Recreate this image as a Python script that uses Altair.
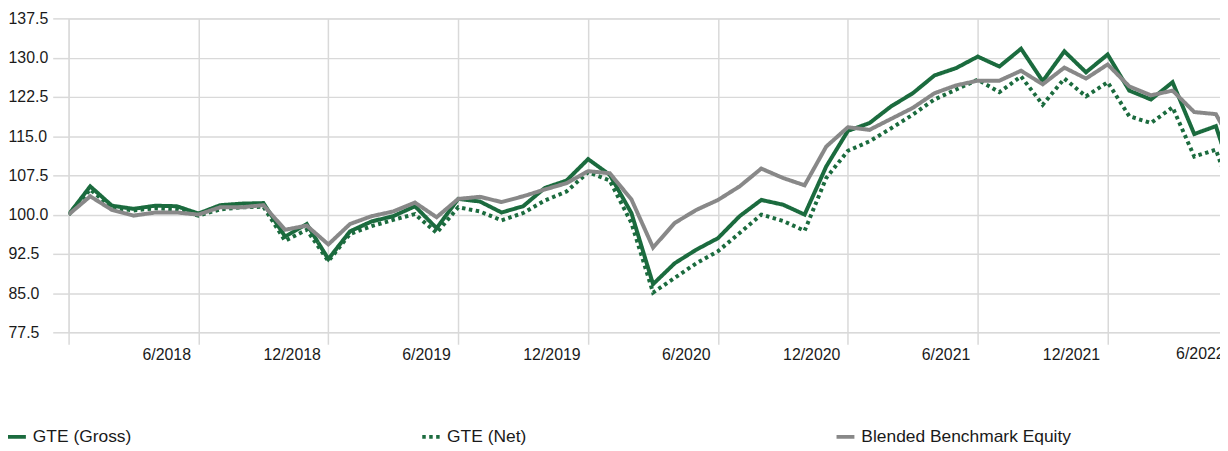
import json
import altair as alt
import pandas as pd

months = ["12/2017",
          "1/2018", "2/2018", "3/2018", "4/2018", "5/2018", "6/2018",
          "7/2018", "8/2018", "9/2018", "10/2018", "11/2018", "12/2018",
          "1/2019", "2/2019", "3/2019", "4/2019", "5/2019", "6/2019",
          "7/2019", "8/2019", "9/2019", "10/2019", "11/2019", "12/2019",
          "1/2020", "2/2020", "3/2020", "4/2020", "5/2020", "6/2020",
          "7/2020", "8/2020", "9/2020", "10/2020", "11/2020", "12/2020",
          "1/2021", "2/2021", "3/2021", "4/2021", "5/2021", "6/2021",
          "7/2021", "8/2021", "9/2021", "10/2021", "11/2021", "12/2021",
          "1/2022", "2/2022", "3/2022", "4/2022", "5/2022", "6/2022"]

gross = [100.0,
         105.4, 101.7, 101.1, 101.7, 101.6, 100.2,
         101.8, 102.1, 102.2, 95.8, 98.2, 91.5,
         96.8, 98.7, 99.7, 101.6, 97.4, 103.0,
         102.5, 100.4, 101.6, 105.1, 106.5, 110.6,
         107.6, 100.3, 86.7, 90.7, 93.3, 95.5,
         99.7, 102.8, 101.9, 100.0, 109.2, 116.0,
         117.5, 120.7, 123.2, 126.6, 128.0, 130.2,
         128.3, 131.7, 125.5, 131.2, 127.2, 130.6,
         123.7, 122.0, 125.3, 115.4, 116.9, 104.3]

net = [100.0,
       104.8, 101.3, 100.8, 101.2, 101.0, 99.8,
       101.0, 101.4, 101.5, 95.0, 97.1, 91.1,
       96.3, 97.8, 99.0, 100.1, 96.5, 101.4,
       100.6, 98.9, 100.3, 102.7, 104.4, 108.1,
       106.5, 98.4, 85.1, 87.9, 90.7, 93.0,
       96.5, 100.0, 98.8, 96.9, 107.0, 112.2,
       114.0, 116.5, 119.1, 122.0, 123.9, 125.8,
       123.4, 126.4, 121.0, 126.0, 122.6, 125.3,
       118.8, 117.5, 120.5, 111.1, 112.4, 100.9]

bench = [100.0,
         103.5, 100.9, 99.8, 100.4, 100.4, 100.0,
         101.4, 101.4, 101.8, 97.1, 97.9, 94.3,
         98.2, 99.7, 100.6, 102.3, 99.5, 103.0,
         103.4, 102.4, 103.5, 104.8, 106.0, 108.3,
         107.9, 102.9, 93.7, 98.4, 100.9, 102.8,
         105.4, 108.8, 107.0, 105.6, 113.0, 116.7,
         116.2, 118.3, 120.4, 123.2, 124.7, 125.6,
         125.6, 127.5, 124.9, 128.1, 126.0, 128.7,
         124.5, 122.8, 123.7, 119.6, 119.2, 111.8]

series_names = ["GTE (Gross)", "GTE (Net)", "Blended Benchmark Equity"]
series_colors = ["#1b6b3e", "#1b6b3e", "#888888"]
series_dash = [[1, 0], [3.5, 3.5], [1, 0]]

tick_idx = [0, 6, 12, 18, 24, 30, 36, 42, 48, 54]
tick_labels = ["", "6/2018", "12/2018", "6/2019", "12/2019",
               "6/2020", "12/2020", "6/2021", "12/2021", "6/2022"]
y_ticks = [77.5, 85.0, 92.5, 100.0, 107.5, 115.0, 122.5, 130.0, 137.5]

FONT = "Liberation Sans, Arial, sans-serif"
GRID = "#d9d9d9"
TEXT = "#1a1a1a"
W, H = 1159, 316
AX_FS = 16

rows = []
for name, vals in zip(series_names, [gross, net, bench]):
    for i, (m, v) in enumerate(zip(months, vals)):
        rows.append({"idx": i, "month": m, "value": v, "series": name})
df = pd.DataFrame(rows)

label_expr = json.dumps(tick_labels) + "[round(datum.value / 6)]"

x_enc = alt.X("idx:Q",
              scale=alt.Scale(domain=[0, 53.19], nice=False, zero=False),
              axis=alt.Axis(values=tick_idx, labelExpr=label_expr, title=None,
                            grid=True, gridColor=GRID, gridWidth=1.5,
                            ticks=True, tickSize=12, tickColor=GRID, tickWidth=1.5,
                            domain=False, labelAlign="right", labelOffset=-8,
                            labelBaseline="top", labelPadding=2,
                            labelFont=FONT, labelFontSize=AX_FS, labelColor=TEXT,
                            labelFlush=False, labelOverlap=False, labelBound=False))

legend_kw = dict(title=None, orient="none", legendX=-63, legendY=410,
                 direction="horizontal", columns=3, gridAlign="all",
                 columnPadding=172, symbolType="stroke",
                 symbolSize=324, symbolStrokeWidth=4,
                 labelFont=FONT, labelFontSize=17.5,
                 labelColor=TEXT, labelOffset=5,
                 padding=0, offset=0, labelLimit=400)

lines = alt.Chart(df).mark_line(clip=True, strokeWidth=4).encode(
    x=x_enc,
    y=alt.Y("value:Q",
            scale=alt.Scale(domain=[77.5, 137.5], nice=False, zero=False),
            axis=alt.Axis(values=y_ticks, format=".1f", title=None,
                          grid=True, gridColor=GRID, gridWidth=1.5,
                          ticks=True, tickSize=16, tickColor=GRID, tickWidth=1.5,
                          domain=False, labelAlign="left", labelPadding=45,
                          labelBaseline="middle",
                          labelFont=FONT, labelFontSize=AX_FS, labelColor=TEXT,
                          labelOverlap=False, labelBound=False, labelFlush=False)),
    color=alt.Color("series:N",
                    scale=alt.Scale(domain=series_names, range=series_colors),
                    legend=alt.Legend(**legend_kw)),
    strokeDash=alt.StrokeDash("series:N",
                              scale=alt.Scale(domain=series_names, range=series_dash),
                              legend=alt.Legend(**legend_kw)),
)

last_df = pd.DataFrame({"idx": [tick_idx[-1]], "label": [tick_labels[-1]]})
last_label = alt.Chart(last_df).mark_text(
    align="right", baseline="top", dx=-13, font=FONT, fontSize=AX_FS, color=TEXT
).encode(
    x=x_enc,
    y=alt.value(H + 12 + 2),
    text="label:N",
)

chart = alt.layer(lines, last_label).properties(
    width=W, height=H,
    autosize=alt.AutoSizeParams(type="none"),
    padding={"left": 61, "top": 9, "right": 0, "bottom": 118},
).configure_view(stroke=None).configure(background="white")

chart.save("out.html", embed_options={"renderer": "svg", "actions": False})
